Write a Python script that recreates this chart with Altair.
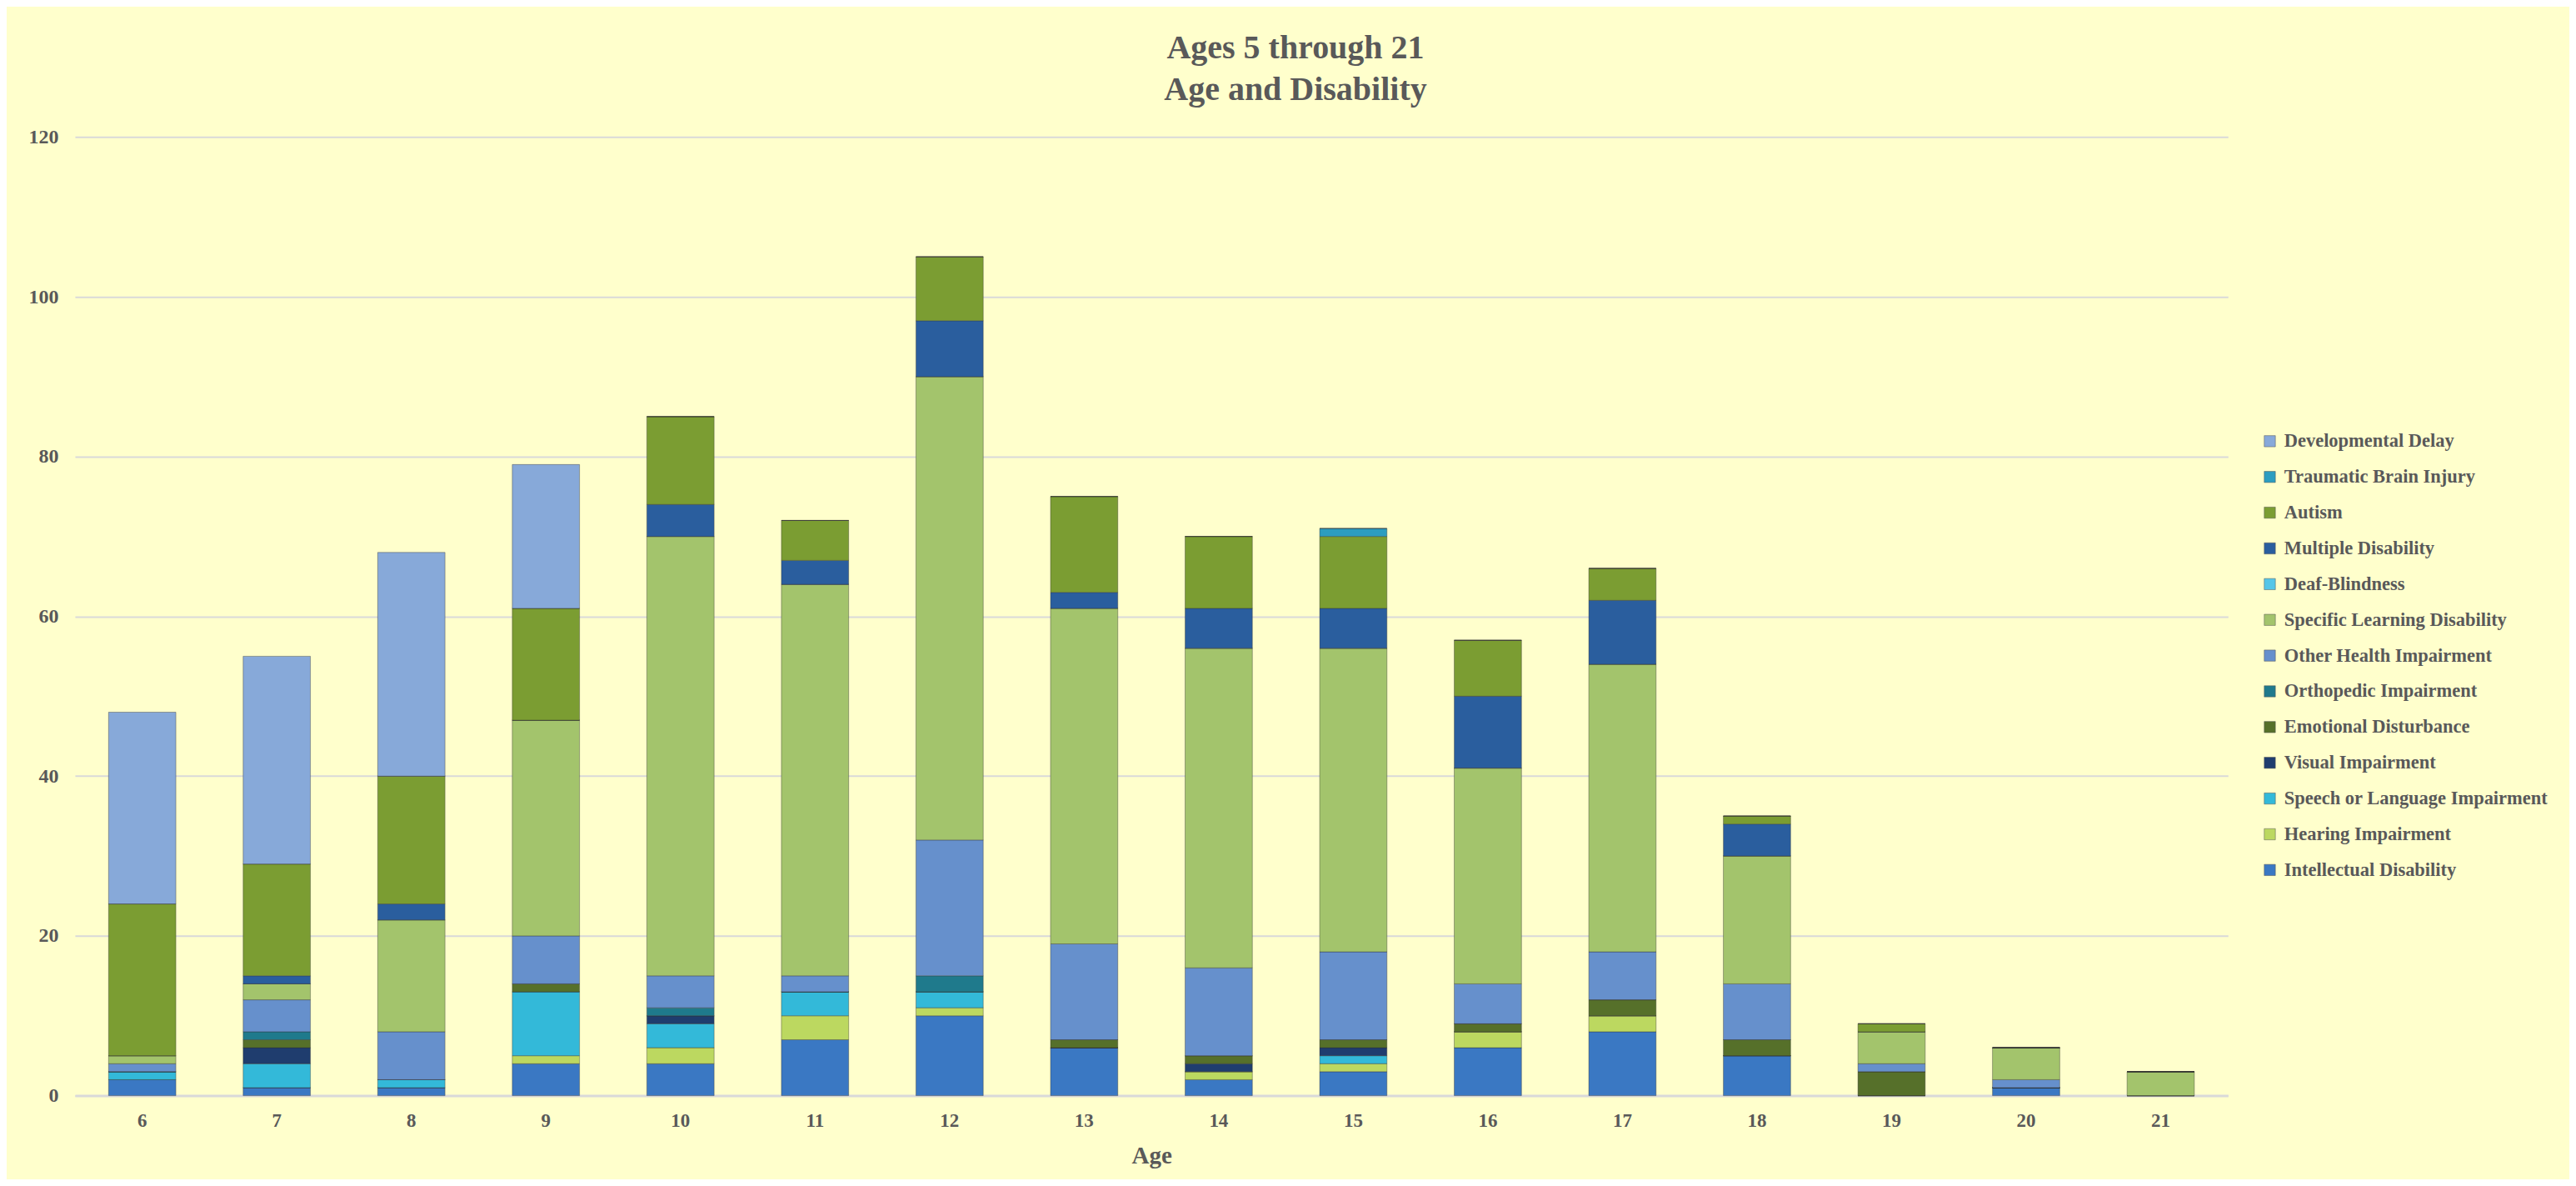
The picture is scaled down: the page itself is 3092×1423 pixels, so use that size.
import altair as alt
import pandas as pd

ages = [6, 7, 8, 9, 10, 11, 12, 13, 14, 15, 16, 17, 18, 19, 20, 21]

# stack order from bottom to top
intellectual = [2, 1, 1, 4, 4, 7, 10, 6, 2, 3, 6, 8, 5, 0, 1, 0]
hearing      = [0, 0, 0, 1, 2, 3, 1, 0, 1, 1, 2, 2, 0, 0, 0, 0]
speech       = [1, 3, 1, 8, 3, 3, 2, 0, 0, 1, 0, 0, 0, 0, 0, 0]
visual       = [0, 2, 0, 0, 1, 0, 0, 0, 1, 1, 0, 0, 0, 0, 0, 0]
emotional    = [0, 1, 0, 1, 0, 0, 0, 1, 1, 1, 1, 2, 2, 3, 0, 0]
orthopedic   = [0, 1, 0, 0, 1, 0, 2, 0, 0, 0, 0, 0, 0, 0, 0, 0]
other_health = [1, 4, 6, 6, 4, 2, 17, 12, 11, 11, 5, 6, 7, 1, 1, 0]
specific_ld  = [1, 2, 14, 27, 55, 49, 58, 42, 40, 38, 27, 36, 16, 4, 4, 3]
deaf_blind   = [0, 0, 0, 0, 0, 0, 0, 0, 0, 0, 0, 0, 0, 0, 0, 0]
multiple     = [0, 1, 2, 0, 4, 3, 7, 2, 5, 5, 9, 8, 4, 0, 0, 0]
autism       = [19, 14, 16, 14, 11, 5, 8, 12, 9, 9, 7, 4, 1, 1, 0, 0]
tbi          = [0, 0, 0, 0, 0, 0, 0, 0, 0, 1, 0, 0, 0, 0, 0, 0]
dev_delay    = [24, 26, 28, 18, 0, 0, 0, 0, 0, 0, 0, 0, 0, 0, 0, 0]

series_names = [
    "Intellectual Disability", "Hearing Impairment", "Speech or Language Impairment",
    "Visual Impairment", "Emotional Disturbance", "Orthopedic Impairment",
    "Other Health Impairment", "Specific Learning Disability", "Deaf-Blindness",
    "Multiple Disability", "Autism", "Traumatic Brain Injury", "Developmental Delay",
]
series_values = [intellectual, hearing, speech, visual, emotional, orthopedic,
                 other_health, specific_ld, deaf_blind, multiple, autism, tbi, dev_delay]
series_colors = ["#3A78C3", "#BCD860", "#33B9D9", "#1F3D6E", "#56702A", "#1F7A8C",
                 "#6690CC", "#A3C46C", "#55C6E8", "#2A5E9E", "#7B9D32", "#2C9DC0", "#87A9D9"]

rows = []
for i, (name, vals) in enumerate(zip(series_names, series_values)):
    for a, v in zip(ages, vals):
        rows.append({"Age": a, "Disability": name, "Count": v, "order": i})
df = pd.DataFrame(rows)

legend_domain = series_names[::-1]
legend_range = series_colors[::-1]

FONT = "Liberation Serif"
GRAY = "#595959"

chart = alt.Chart(df).mark_bar(stroke="#333333", strokeOpacity=0.4, strokeWidth=1).encode(
    x=alt.X("Age:O", title="Age",
            scale=alt.Scale(paddingInner=0.5, paddingOuter=0.25),
            axis=alt.Axis(labelAngle=0, labelFont=FONT, labelFontSize=23, labelFontWeight="bold",
                          labelColor=GRAY, labelPadding=19, ticks=False,
                          domainColor="#D9D9D9", domainWidth=3,
                          titleFont=FONT, titleFontSize=29, titleFontWeight="bold",
                          titleColor=GRAY, titlePadding=16)),
    y=alt.Y("Count:Q", title=None, stack="zero",
            scale=alt.Scale(domain=[0, 120]),
            axis=alt.Axis(values=[0, 20, 40, 60, 80, 100, 120], labelFont=FONT,
                          labelFontSize=24, labelFontWeight="bold", labelColor=GRAY,
                          labelPadding=20, ticks=False, domain=False,
                          gridColor="#D9D9D9", gridWidth=2)),
    color=alt.Color("Disability:N",
                    scale=alt.Scale(domain=legend_domain, range=legend_range),
                    legend=alt.Legend(title=None, orient="none", legendX=2625, legendY=354,
                                      symbolType="square", symbolSize=180,
                                      symbolStrokeColor="#555555", symbolStrokeWidth=0.5,
                                      labelFont=FONT, labelFontSize=22.5, labelFontWeight="bold",
                                      labelColor=GRAY, rowPadding=19.9, labelOffset=6,
                                      labelLimit=600)),
    order=alt.Order("order:Q", sort="ascending"),
).properties(
    width=2586,
    height=1151,
    title=alt.TitleParams(["Ages 5 through 21", "Age and Disability"], font=FONT,
                          fontSize=40, fontWeight="bold", color=GRAY, lineHeight=50,
                          anchor="middle", dx=173, offset=24),
    autosize=alt.AutoSizeParams(type="none"),
    padding={"left": 82, "top": 156, "right": 410, "bottom": 100},
    background="#FFFFCC",
).configure_view(stroke=None)

chart.save("out.html", embed_options={"renderer": "svg", "actions": False})
